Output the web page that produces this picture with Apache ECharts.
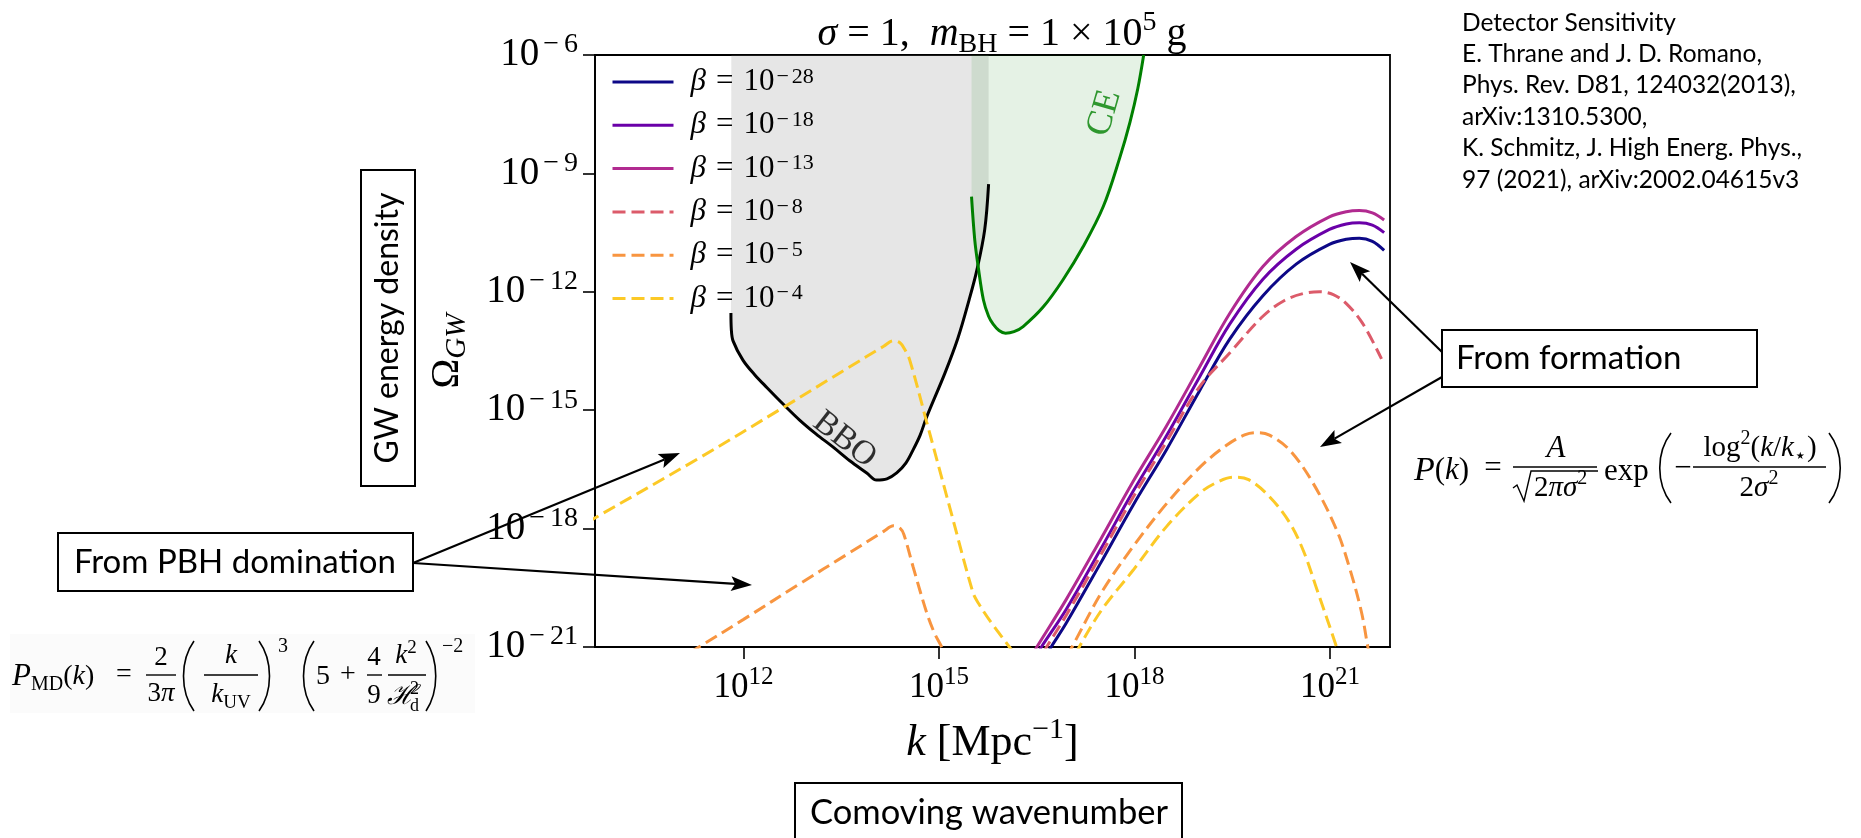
<!DOCTYPE html>
<html>
<head>
<meta charset="utf-8">
<title>GW energy density vs comoving wavenumber</title>
<script src="https://cdn.jsdelivr.net/npm/echarts@6.0.0/dist/echarts.min.js"></script>
<style>
  html, body { margin: 0; padding: 0; background: #ffffff; }
  #chart { width: 1861px; height: 838px; }
</style>
</head>
<body>
<div id="chart"></div>
<script>
// Every curve is a list of [log10(k / Mpc^-1), log10(Omega_GW)] pairs.

// Axis ranges (in decades) and the labelled k ticks
const kRange = [9.72, 21.92];
const omegaRange = [-21, -6];
const kTickExponents = [12, 15, 18, 21];

// Detector sensitivity curves
const bboCurve = [
  [11.806, -12.54], [11.812, -12.95], [11.84, -13.25], [11.99, -13.73], [12.17, -14.1],
  [12.36, -14.43], [12.61, -14.85], [12.86, -15.25], [13.11, -15.60], [13.37, -15.93],
  [13.63, -16.28], [13.89, -16.59], [14.04, -16.77], [14.20, -16.74], [14.35, -16.59],
  [14.49, -16.34], [14.60, -16.01], [14.71, -15.63], [14.81, -15.17], [15.09, -14.06],
  [15.29, -13.17], [15.46, -12.21], [15.58, -11.45], [15.70, -10.43], [15.76, -9.27]
];
const ceCurve = [
  [15.498, -9.59], [15.548, -10.69], [15.60, -11.36], [15.68, -12.20], [15.76, -12.62],
  [15.83, -12.82], [15.92, -12.98], [16.02, -13.05], [16.15, -13.01], [16.29, -12.88],
  [16.60, -12.38], [16.90, -11.70], [17.21, -10.86], [17.52, -9.84], [17.77, -8.62],
  [17.93, -7.70], [18.05, -6.85], [18.14, -6.00]
];

// GW spectra, one per initial PBH abundance beta
const betaNames = ['β = 10^-28', 'β = 10^-18', 'β = 10^-13', 'β = 10^-8', 'β = 10^-5', 'β = 10^-4'];
const beta28 = [
  [16.67, -21.15], [16.72, -21.0], [16.95, -20.4], [17.47, -18.9], [17.98, -17.4],
  [18.49, -16.0], [19.0, -14.5], [19.46, -13.2], [19.97, -12.1], [20.48, -11.3],
  [20.99, -10.8], [21.25, -10.67], [21.45, -10.64], [21.65, -10.72], [21.83, -10.95]
];
const beta18 = [
  [16.52, -21.15], [16.57, -21.0], [16.95, -20.05], [17.47, -18.55], [17.98, -17.05],
  [18.49, -15.65], [19.0, -14.15], [19.46, -12.82], [19.97, -11.68], [20.48, -10.92],
  [20.99, -10.42], [21.25, -10.28], [21.45, -10.25], [21.65, -10.31], [21.83, -10.5]
];
const beta13 = [
  [16.45, -21.15], [16.5, -21.0], [16.95, -19.8], [17.47, -18.3], [17.98, -16.8],
  [18.49, -15.4], [19.0, -13.9], [19.46, -12.55], [19.97, -11.36], [20.48, -10.6],
  [20.99, -10.1], [21.25, -9.97], [21.45, -9.94], [21.65, -10.0], [21.83, -10.18]
];
const beta8 = [
  [16.6, -21.15], [16.65, -21.0], [16.95, -20.2], [17.47, -18.7], [17.98, -17.2],
  [18.49, -15.8], [19.0, -14.4], [19.46, -13.55], [19.97, -12.62], [20.3, -12.22],
  [20.6, -12.04], [20.84, -12.0], [21.05, -12.07], [21.25, -12.3], [21.5, -12.8], [21.79, -13.7]
];
const beta5Domination = [
  [11.17, -21.15], [11.315, -21.0], [12.0, -20.3], [12.86, -19.4], [13.6, -18.64],
  [14.15, -18.07], [14.3, -17.93], [14.4, -17.99], [14.46, -18.15], [14.6, -18.96],
  [14.81, -20.13], [14.93, -20.65], [15.04, -21.0], [15.08, -21.15]
];
const beta5Formation = [
  [16.95, -21.25], [17.04, -21.0], [17.5, -19.6], [17.98, -18.45], [18.5, -17.35],
  [19.0, -16.45], [19.4, -15.9], [19.7, -15.62], [19.9, -15.57], [20.07, -15.63],
  [20.38, -16.01], [20.74, -16.85], [21.1, -18.03], [21.3, -19.0], [21.48, -20.1],
  [21.58, -21.0], [21.61, -21.25]
];
const beta4Domination = [
  [9.6, -17.85], [9.72, -17.73], [11.33, -16.2], [12.61, -14.93], [13.6, -13.93],
  [14.15, -13.38], [14.3, -13.24], [14.4, -13.29], [14.47, -13.45], [14.55, -13.73],
  [14.81, -15.3], [15.17, -17.5], [15.52, -19.62], [15.6, -19.88], [15.8, -20.38],
  [16.08, -21.0], [16.14, -21.15]
];
const beta4Formation = [
  [17.1, -21.2], [17.15, -21.0], [17.5, -20.05], [17.98, -19.05], [18.49, -17.95],
  [19.0, -17.1], [19.3, -16.8], [19.52, -16.7], [19.75, -16.76], [20.07, -17.19],
  [20.38, -17.85], [20.6, -18.6], [20.8, -19.55], [21.1, -21.0], [21.13, -21.2]
];

// Reference list printed beside the chart
const sensitivityRefs = [
  'Detector Sensitivity',
  'E. Thrane and J. D. Romano,',
  'Phys. Rev. D81, 124032(2013),',
  'arXiv:1310.5300,',
  'K. Schmitz, J. High Energ. Phys.,',
  '97 (2021), arXiv:2002.04615v3'
];

const SERIF = "'Liberation Serif', 'DejaVu Serif', serif";
const SANS = "Lato, 'Open Sans', sans-serif";
const lineColors = ['#0d0887', '#6a00a8', '#b12a90', '#dc5b6a', '#f89540', '#fcc926'];

// superscript exponent, with the wide math minus used by the tick labels
function expTokens(v, supStyle) {
  const s = String(v);
  if (s.charAt(0) === '-') return '{m|−}{' + supStyle + '|' + s.slice(1) + '}';
  return '{' + supStyle + '|' + s + '}';
}
const powerLabel = v => '{b|10}' + expTokens(v, 's');

function spectrum(name, data, color, dashed) {
  return {
    type: 'line', name: name, data: data,
    symbol: 'none', showSymbol: false,
    smooth: 0.35,
    lineStyle: { color: color, width: 3, type: dashed ? [13, 6] : 'solid' },
    itemStyle: { color: color },
    emphasis: { disabled: true },
    silent: true, z: 4
  };
}

function sensitivity(name, data, color, fill) {
  return {
    type: 'line', name: name, data: data,
    symbol: 'none', showSymbol: false,
    smooth: 0.35,
    lineStyle: { color: color, width: 3 },
    areaStyle: { color: fill, origin: 'end', opacity: 1 },
    emphasis: { disabled: true },
    silent: true, z: 2
  };
}

function curveLabel(pos, text, rotate, color, size) {
  return {
    type: 'scatter', data: [pos], symbolSize: 1, silent: true, z: 6,
    itemStyle: { color: 'rgba(0,0,0,0)' },
    label: {
      show: true, position: 'inside', formatter: text, rotate: rotate,
      fontFamily: SERIF, fontSize: size, color: color
    }
  };
}

// ---------- graphic helpers (boxes, arrows, formulas) ----------
function rt(x, y, text, size, align, rotation) {
  const lh = Math.round(size * 1.3);
  const part = (extra) => Object.assign({ fontFamily: SERIF, fontSize: size, lineHeight: lh, fill: '#000' }, extra || {});
  return {
    type: 'text', x: x, y: y, rotation: rotation || 0, silent: true,
    style: {
      text: text, align: align || 'left', verticalAlign: 'middle',
      rich: {
        r: part(),
        i: part({ fontStyle: 'italic' }),
        c: part({ fontStyle: 'italic', fontSize: Math.round(size * 1.1) }),
        sub: part({ fontSize: Math.round(size * 0.7), lineHeight: Math.round(size * 0.75), verticalAlign: 'bottom' }),
        sup: part({ fontSize: Math.round(size * 0.7), lineHeight: Math.round(size * 0.6), verticalAlign: 'top' })
      }
    }
  };
}
function seg(x1, y1, x2, y2, w) {
  return { type: 'line', silent: true, shape: { x1: x1, y1: y1, x2: x2, y2: y2 }, style: { stroke: '#000', lineWidth: w || 1.4 } };
}
function paren(xl, xr, top, bottom, open) {
  const h = bottom - top;
  const edge = open ? xr : xl, bulge = open ? xl : xr;
  return {
    type: 'bezierCurve', silent: true,
    shape: { x1: edge, y1: top, x2: edge, y2: bottom, cpx1: bulge, cpy1: top + h * 0.28, cpx2: bulge, cpy2: bottom - h * 0.28 },
    style: { stroke: '#000', lineWidth: 1.6, fill: null }
  };
}
function box(x, y, w, h) {
  return { type: 'rect', silent: true, shape: { x: x, y: y, width: w, height: h }, style: { fill: '#fff', stroke: '#000', lineWidth: 2 } };
}
function sansText(x, y, text, size, rotation, align) {
  return {
    type: 'text', x: x, y: y, rotation: rotation || 0, silent: true,
    style: { text: text, fontFamily: SANS, fontSize: size, fill: '#000', align: align || 'left', verticalAlign: 'middle' }
  };
}
function arrow(x1, y1, x2, y2) {
  const a = Math.atan2(y2 - y1, x2 - x1), L = 21, W = 7.5;
  const ca = Math.cos(a), sa = Math.sin(a);
  const bx = x2 - L * ca, by = y2 - L * sa;
  const nx = -sa * W, ny = ca * W;
  const notchX = x2 - L * 0.8 * ca, notchY = y2 - L * 0.8 * sa;
  return [
    { type: 'line', silent: true, shape: { x1: x1, y1: y1, x2: notchX, y2: notchY }, style: { stroke: '#000', lineWidth: 2.2 } },
    { type: 'polygon', silent: true, shape: { points: [[x2, y2], [bx + nx, by + ny], [notchX, notchY], [bx - nx, by - ny]] }, style: { fill: '#000' } }
  ];
}

const annotations = [].concat(
  // boxes with captions
  [box(1442, 330, 315, 57), sansText(1456, 358, 'From formation', 33)],
  [box(58, 533, 355, 58), sansText(74, 562, 'From PBH domination', 33)],
  [box(361, 170, 54, 316), sansText(388, 328, 'GW energy density', 32, Math.PI / 2, 'center')],
  [box(795, 783, 387, 80), sansText(810, 813, 'Comoving wavenumber', 34.5)],
  // arrows
  arrow(1442, 352, 1350, 262),
  arrow(1442, 377, 1320, 447),
  arrow(413, 563, 680, 453),
  arrow(413, 563, 752, 585),
  // reference list
  [{
    type: 'text', x: 1462, y: 7, silent: true,
    style: { text: sensitivityRefs.join('\n'), fontFamily: SANS, fontSize: 24.5, lineHeight: 31.4, fill: '#000', align: 'left', verticalAlign: 'top' }
  }],
  // log-normal curvature spectrum
  [
    rt(1414, 471, '{c|P}{r|(}{i|k}{r|)}', 31),
    rt(1493, 469, '{r|=}', 31, 'center'),
    rt(1556, 449, '{i|A}', 31, 'center'),
    seg(1513, 467, 1597, 467),
    { type: 'polyline', silent: true, shape: { points: [[1513, 488], [1517, 485], [1524, 501], [1531, 471], [1598, 471]] }, style: { stroke: '#000', lineWidth: 1.4, fill: null } },
    rt(1534, 488, '{r|2}{i|πσ}{sup|2}', 29),
    rt(1604, 472, '{r|exp}', 31),
    paren(1656, 1671, 433, 503, true),
    rt(1683, 469, '{r|−}', 31, 'center'),
    rt(1760, 448, '{r|log}{sup|2}{r|(}{i|k}{r|/}{i|k}{sub|⋆}{r|)}', 29, 'center'),
    seg(1693, 467, 1826, 467),
    rt(1759, 488, '{r|2}{i|σ}{sup|2}', 29, 'center'),
    paren(1829, 1844, 433, 503, false)
  ],
  // matter-domination power spectrum
  [
    { type: 'rect', silent: true, shape: { x: 10, y: 634, width: 465, height: 79 }, style: { fill: '#fbfbfb' } },
    rt(12, 677, '{c|P}{sub|MD}{r|(}{i|k}{r|)}', 28),
    rt(124, 675, '{r|=}', 28, 'center'),
    rt(161, 658, '{r|2}', 27, 'center'),
    seg(146, 675, 176, 675),
    rt(161, 694, '{r|3}{i|π}', 27, 'center'),
    paren(180, 194, 641, 711, true),
    rt(231, 656, '{i|k}', 27, 'center'),
    seg(204, 675, 258, 675),
    rt(231, 695, '{i|k}{sub|UV}', 27, 'center'),
    paren(259, 273, 641, 711, false),
    rt(278, 647, '{r|3}', 20),
    paren(300, 314, 641, 711, true),
    rt(316, 677, '{r|5}', 28),
    rt(348, 675, '{r|+}', 28, 'center'),
    rt(374, 658, '{r|4}', 27, 'center'),
    seg(367, 675, 382, 675),
    rt(374, 696, '{r|9}', 27, 'center'),
    rt(406, 656, '{i|k}{sup|2}', 27, 'center'),
    seg(388, 675, 426, 675),
    rt(387, 697, '{i|ℋ}', 27),
    rt(410, 689, '{r|2}', 18),
    rt(410, 706, '{r|d}', 18),
    paren(426, 439, 641, 711, false),
    rt(442, 647, '{r|−2}', 20)
  ]
);

// ---------- chart ----------
const chart = echarts.init(document.getElementById('chart'), null, { renderer: 'canvas' });

const yTickRich = {
  b: { fontFamily: SERIF, fontSize: 39, lineHeight: 48, color: '#000' },
  m: { fontFamily: SERIF, fontSize: 28, lineHeight: 22, verticalAlign: 'top', color: '#000', padding: [0, 5, 0, 4] },
  s: { fontFamily: SERIF, fontSize: 28, lineHeight: 22, verticalAlign: 'top', color: '#000' }
};
const xTickRich = {
  b: { fontFamily: SERIF, fontSize: 35, lineHeight: 46, color: '#000' },
  s: { fontFamily: SERIF, fontSize: 25, lineHeight: 21, verticalAlign: 'top', color: '#000' }
};

const series = [
  sensitivity('BBO', bboCurve, '#000000', 'rgba(128,128,128,0.2)'),
  sensitivity('CE', ceCurve, '#008000', 'rgba(0,128,0,0.1)'),
  spectrum(betaNames[0], beta28, lineColors[0], false),
  spectrum(betaNames[1], beta18, lineColors[1], false),
  spectrum(betaNames[2], beta13, lineColors[2], false),
  spectrum(betaNames[3], beta8, lineColors[3], true),
  spectrum(betaNames[4], beta5Domination, lineColors[4], true),
  spectrum(betaNames[4], beta5Formation, lineColors[4], true),
  spectrum(betaNames[5], beta4Domination, lineColors[5], true),
  spectrum(betaNames[5], beta4Formation, lineColors[5], true),
  curveLabel([13.55, -15.75], 'BBO', -38, '#000', 34),
  curveLabel([17.54, -7.47], 'CE', 74, '#008000', 36)
];

const titleTok = (extra) => Object.assign({ fontFamily: SERIF, fontSize: 40, lineHeight: 50, fontWeight: 'normal', color: '#000' }, extra || {});

chart.setOption({
  animation: false,
  backgroundColor: '#ffffff',
  title: {
    text: '{i|σ}{r| = 1,  }{i|m}{sub|BH}{r| = 1 × 10}{sup|5}{r| g}',
    left: 997, top: 4, textAlign: 'center',
    textStyle: {
      fontWeight: 'normal',
      rich: {
        i: titleTok({ fontStyle: 'italic' }),
        r: titleTok(),
        sub: titleTok({ fontSize: 28, lineHeight: 34, verticalAlign: 'bottom' }),
        sup: titleTok({ fontSize: 28, lineHeight: 23, verticalAlign: 'top' })
      }
    }
  },
  grid: {
    left: 595, top: 55, width: 795, height: 592,
    show: true, borderColor: '#000', borderWidth: 1.8, backgroundColor: 'transparent'
  },
  legend: {
    data: betaNames,
    orient: 'vertical', left: 611, top: 66, padding: 0,
    itemWidth: 61, itemHeight: 14, itemGap: 11.8,
    selectedMode: false,
    lineStyle: { width: 3 },
    itemStyle: { opacity: 0 },
    formatter: name => '{g| }{i|β}{e|=}{r|10}' + expTokens(name.split('^')[1], 's'),
    textStyle: {
      rich: {
        g: { width: 12 },
        i: { fontFamily: SERIF, fontStyle: 'italic', fontSize: 31, lineHeight: 32, color: '#000' },
        e: { fontFamily: SERIF, fontSize: 31, lineHeight: 32, color: '#000', padding: [0, 10, 0, 10] },
        r: { fontFamily: SERIF, fontSize: 31, lineHeight: 32, color: '#000' },
        m: { fontFamily: SERIF, fontSize: 22, lineHeight: 15, verticalAlign: 'top', color: '#000', padding: [0, 3, 0, 2] },
        s: { fontFamily: SERIF, fontSize: 22, lineHeight: 15, verticalAlign: 'top', color: '#000' }
      }
    }
  },
  xAxis: {
    type: 'value', min: kRange[0], max: kRange[1],
    name: '{i|k}{r| [Mpc}{sup|−1}{r|]}',
    nameLocation: 'middle', nameGap: 68,
    nameTextStyle: {
      rich: {
        i: { fontFamily: SERIF, fontStyle: 'italic', fontSize: 44, lineHeight: 56, color: '#000' },
        r: { fontFamily: SERIF, fontSize: 44, lineHeight: 56, color: '#000' },
        sup: { fontFamily: SERIF, fontSize: 30, lineHeight: 26, verticalAlign: 'top', color: '#000' }
      }
    },
    axisLine: { show: true, lineStyle: { color: '#000', width: 1.8 } },
    axisTick: { show: true, customValues: kTickExponents, length: 12, lineStyle: { color: '#000', width: 1.6 } },
    axisLabel: { show: true, customValues: kTickExponents, margin: 18, formatter: powerLabel, rich: xTickRich },
    splitLine: { show: false }
  },
  yAxis: {
    type: 'value', min: omegaRange[0], max: omegaRange[1], interval: 3,
    name: '{r|Ω}{sub|GW}',
    nameLocation: 'middle', nameRotate: 90, nameGap: 123,
    nameTextStyle: {
      rich: {
        r: { fontFamily: SERIF, fontSize: 40, lineHeight: 50, color: '#000' },
        sub: { fontFamily: SERIF, fontStyle: 'italic', fontSize: 29, lineHeight: 29, verticalAlign: 'bottom', color: '#000' }
      }
    },
    axisLine: { show: true, lineStyle: { color: '#000', width: 1.8 } },
    axisTick: { show: true, length: 12, lineStyle: { color: '#000', width: 1.6 } },
    axisLabel: { show: true, margin: 17, formatter: powerLabel, rich: yTickRich },
    splitLine: { show: false }
  },
  series: series,
  graphic: { elements: annotations }
});
</script>
</body>
</html>
